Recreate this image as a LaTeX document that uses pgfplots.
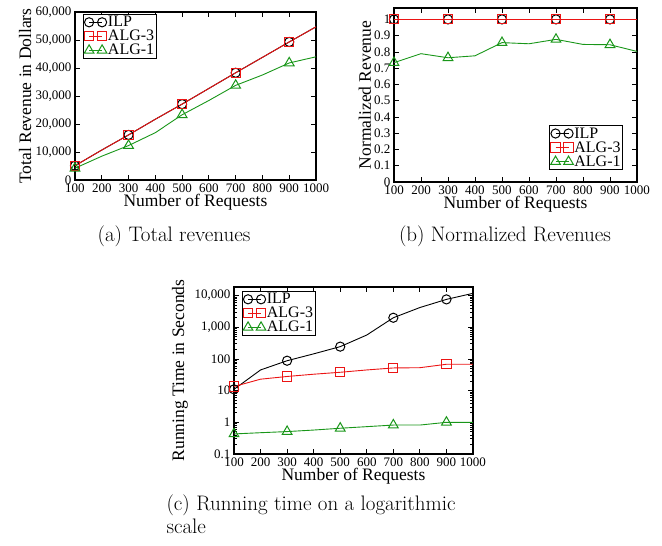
\documentclass[border=0pt]{standalone}
\usepackage{pgfplots}
\pgfplotsset{compat=1.18}
\usepackage{fontspec}
\newfontfamily\plotfont{Liberation Serif}
\definecolor{myred}{RGB}{235,20,20}
\definecolor{mygreen}{RGB}{25,150,25}
\pgfplotsset{
  myaxis/.style={
    scale only axis, anchor=south west,
    xmin=100, xmax=1000, xtick={100,200,300,400,500,600,700,800,900,1000},
    xticklabels={100,200,300,400,500,600,700,800,900,1000},
    scaled ticks=false,
    /pgf/number format/assume math mode=true,
    tick label style={font=\plotfont\fontsize{13}{13}\selectfont},
    label style={font=\plotfont\fontsize{17.5}{17.5}\selectfont},
    axis line style={line width=1.2pt},
    tick style={black, line width=0.8pt},
    major tick length=5pt, minor tick length=3pt,
    tick align=inside,
    xlabel={Number of Requests},
    xlabel style={at={(axis description cs:0.5,0)}, anchor=base, yshift=-27pt},
    legend cell align=left,
    legend style={font=\plotfont\fontsize{16}{16}\selectfont, draw=black, line width=0.6pt,
      inner sep=1pt, row sep=0pt, nodes={inner sep=1pt}},
    legend image code/.code={\draw[##1,mark repeat=1,mark phase=1] plot coordinates {(0pt,0pt) (13pt,0pt)};},
  },
  ilp/.style={black, line width=0.9pt, mark=o, mark size=4.6pt, mark repeat=2, mark options={solid, line width=1pt}},
  alg3/.style={myred, line width=0.9pt, mark=square, mark size=4.6pt, mark repeat=2, mark options={solid, line width=1pt}},
  alg1/.style={mygreen, line width=0.9pt, mark=triangle, mark size=5.6pt, mark repeat=2, mark options={solid, line width=1pt}},
}
\begin{document}
\begin{tikzpicture}[x=1pt,y=1pt]
\path[use as bounding box] (0,0) rectangle (662,546);

% (a)
\begin{axis}[myaxis, at={(75pt,366pt)}, width=241pt, height=168pt,
  ymin=0, ymax=60000, ytick={0,10000,20000,30000,40000,50000,60000},
  yticklabels={0,{10,000},{20,000},{30,000},{40,000},{50,000},{60,000}},
  ylabel={Total Revenue in Dollars},
  ylabel style={at={(axis description cs:-0.207,0.5)}, anchor=center},
  legend style={at={(0.033,0.988)}, anchor=north west}]
\addplot[ilp] coordinates {(100,5100) (200,10700) (300,16100) (400,21700) (500,27100) (600,32700) (700,38300) (800,43800) (900,49300) (1000,54700)};
\addplot[alg3] coordinates {(100,5100) (200,10700) (300,16100) (400,21700) (500,27100) (600,32700) (700,38300) (800,43800) (900,49300) (1000,54700)};
\addplot[alg1] coordinates {(100,4200) (200,8500) (300,12300) (400,16900) (500,23300) (600,28400) (700,33800) (800,37500) (900,41800) (1000,44000)};
\legend{ILP,ALG-3,ALG-1}
\end{axis}

% (b)
\begin{axis}[myaxis, at={(394pt,364pt)}, width=243pt, height=174pt,
  ymin=0, ymax=1.07, ytick={0,0.1,0.2,0.3,0.4,0.5,0.6,0.7,0.8,0.9,1},
  yticklabels={0,0.1,0.2,0.3,0.4,0.5,0.6,0.7,0.8,0.9,1},
  ylabel={Normalized Revenue},
  ylabel style={at={(axis description cs:-0.12,0.5)}, anchor=center},
  legend style={at={(0.942,0.069)}, anchor=south east}]
\addplot[ilp] coordinates {(100,1) (200,1) (300,1) (400,1) (500,1) (600,1) (700,1) (800,1) (900,1) (1000,1)};
\addplot[alg3] coordinates {(100,1) (200,1) (300,1) (400,1) (500,1) (600,1) (700,1) (800,1) (900,1) (1000,1)};
\addplot[alg1] coordinates {(100,0.734) (200,0.789) (300,0.764) (400,0.776) (500,0.857) (600,0.850) (700,0.877) (800,0.846) (900,0.844) (1000,0.803)};
\legend{ILP,ALG-3,ALG-1}
\end{axis}

% (c)
\begin{axis}[myaxis, at={(234pt,92pt)}, width=239pt, height=167pt,
  ymode=log, ymin=0.1, ymax=18700, ytick={0.1,1,10,100,1000,10000},
  yticklabels={0.1,1,10,100,{1,000},{10,000}},
  ylabel={Running Time in Seconds},
  ylabel style={at={(axis description cs:-0.226,0.5)}, anchor=center},
  legend style={at={(0.033,0.976)}, anchor=north west}]
\addplot[ilp] coordinates {(100,11) (200,45) (300,88) (400,145) (500,245) (600,570) (700,2000) (800,4200) (900,7600) (1000,11800)};
\addplot[alg3] coordinates {(100,13.5) (200,23) (300,28) (400,33) (500,38) (600,45) (700,52) (800,53) (900,68) (1000,68)};
\addplot[alg1] coordinates {(100,0.43) (200,0.47) (300,0.51) (400,0.57) (500,0.65) (600,0.73) (700,0.82) (800,0.82) (900,1.0) (1000,1.0)};
\legend{ILP,ALG-3,ALG-1}
\end{axis}

% captions
\node[font=\fontsize{21}{23}\selectfont, anchor=base] at (174,304) {(a)\ Total revenues};
\node[font=\fontsize{21}{23}\selectfont, anchor=base] at (505,304) {(b)\ Normalized Revenues};
\node[font=\fontsize{21}{23}\selectfont, anchor=base west] at (163,35) {(c)\ Running time on a logarithmic};
\node[font=\fontsize{21}{23}\selectfont, anchor=base west] at (163,12) {scale};
\end{tikzpicture}
\end{document}
